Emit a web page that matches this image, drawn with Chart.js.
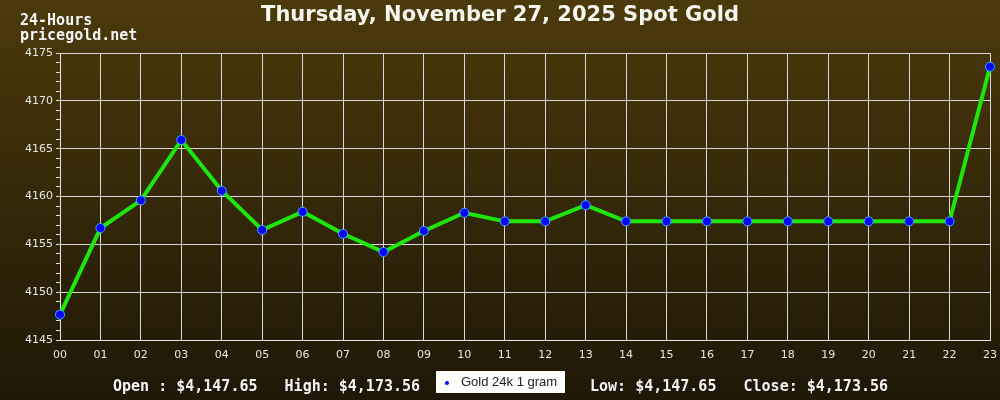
<!DOCTYPE html>
<html>
<head>
<meta charset="utf-8">
<script src="https://cdn.jsdelivr.net/npm/chart.js@4"></script>
<style>
  html, body { margin: 0; padding: 0; }
  body {
    width: 1000px; height: 400px; position: relative; overflow: hidden;
    background: linear-gradient(to bottom, #4b3a0b 0%, #1f1707 100%);
  }
  #wrap { position: absolute; left: 0; top: 0; width: 1000px; height: 400px; }
  .mono { position: absolute; font-family: "DejaVu Sans Mono", monospace; font-weight: bold; font-size: 15px; color: #f4f4f4; white-space: pre; }
  #title { position: absolute; left: 0; width: 1000px; top: 2px; text-align: center; font-family: "DejaVu Sans", sans-serif; font-weight: bold; font-size: 21px; color: #f6f6ee; }
  #legend { position: absolute; left: 436px; top: 371px; width: 129px; height: 22px; background: #ffffff; font-family: "Liberation Sans", sans-serif; font-size: 13px; color: #222; }
  #legend .dot { position: absolute; left: 9px; top: 10px; width: 4px; height: 4px; background: #0000ff; border-radius: 2px; }
  #legend .lbl { position: absolute; left: 25px; top: 3px; }
</style>
</head>
<body>
<div id="wrap"><canvas id="chart" width="1000" height="400"></canvas></div>
<div id="title">Thursday, November 27, 2025 Spot Gold</div>
<div class="mono" style="left:20px; top:11px;">24-Hours</div>
<div class="mono" style="left:20px; top:26px;">pricegold.net</div>
<div class="mono" style="left:113px; top:377px;">Open : $4,147.65   High: $4,173.56</div>
<div class="mono" style="left:590px; top:377px;">Low: $4,147.65   Close: $4,173.56</div>
<div id="legend"><div class="dot"></div><div class="lbl">Gold 24k 1 gram</div></div>
<script>
const hours = ['00','01','02','03','04','05','06','07','08','09','10','11',
  '12','13','14','15','16','17','18','19','20','21','22','23'];
const prices = [4147.65, 4156.7, 4159.6, 4165.9, 4160.6, 4156.5, 4158.4, 4156.1,
  4154.2, 4156.4, 4158.3, 4157.4, 4157.4, 4159.1, 4157.4, 4157.4, 4157.4, 4157.4,
  4157.4, 4157.4, 4157.4, 4157.4, 4157.4, 4173.56];
const yMin = 4145;
const yMax = 4175;

const ctx = document.getElementById('chart').getContext('2d');

new Chart(ctx, {
  type: 'line',
  data: {
    labels: hours,
    datasets: [{
      label: 'Gold 24k 1 gram',
      data: prices,
      borderColor: '#1ee60a',
      borderWidth: 4,
      tension: 0,
      pointRadius: 4.5,
      pointBackgroundColor: '#0000ff',
      pointBorderColor: '#3fa9ff',
      pointBorderWidth: 1
    }]
  },
  options: {
    responsive: false,
    animation: false,
    layout: { padding: { top: 53, right: 10, left: 0, bottom: 0 } },
    plugins: {
      legend: { display: false },
      tooltip: { enabled: false }
    },
    scales: {
      x: {
        offset: false,
        afterFit: (scale) => { scale.height = 60; scale.paddingRight = 0; scale.paddingLeft = 0; },
        grid: { color: '#d8d8d8', lineWidth: 1, tickLength: 0, drawTicks: false },
        border: { color: '#e8e8e8', width: 1 },
        ticks: {
          color: '#e8e8e0', padding: 9, maxRotation: 0, autoSkip: false,
          font: { family: 'DejaVu Sans', size: 11 }
        }
      },
      y: {
        min: yMin,
        max: yMax,
        afterFit: (scale) => { scale.width = 60; scale.paddingTop = 0; scale.paddingBottom = 0; },
        grid: {
          color: (c) => (c.tick && c.tick.value % 5 === 0) ? '#d8d8d8' : 'rgba(0,0,0,0)',
          tickColor: '#e0e0e0',
          tickLength: 4,
          lineWidth: 1
        },
        border: { color: '#e8e8e8', width: 1 },
        ticks: {
          stepSize: 1,
          autoSkip: false,
          color: '#e8e8e0',
          padding: 3,
          font: { family: 'DejaVu Sans', size: 11 },
          callback: (v) => (v % 5 === 0 ? String(v) : '')
        }
      }
    }
  }
});
</script>
</body>
</html>
